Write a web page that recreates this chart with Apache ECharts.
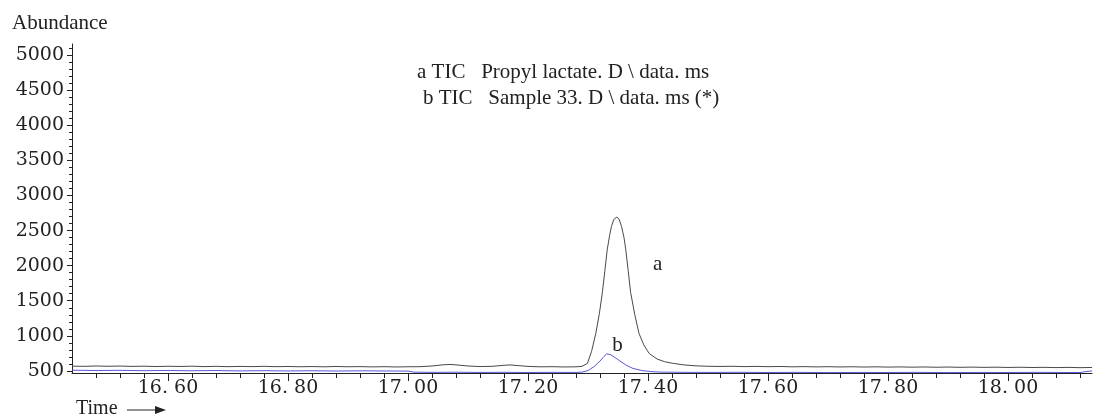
<!DOCTYPE html>
<html>
<head>
<meta charset="utf-8">
<script src="https://cdn.jsdelivr.net/npm/echarts@6/dist/echarts.min.js"></script>
<style>
  html, body { margin: 0; padding: 0; background: #fff; }
  #chart { width: 1093px; height: 416px; }
</style>
</head>
<body>
<div id="chart"></div>
<script>
// trace a: Propyl lactate (grey)
const timeA = [16.44, 16.46, 16.48, 16.50, 16.52, 16.54, 16.56, 16.58, 16.60, 16.62, 16.64, 16.66, 16.68, 16.70, 16.72, 16.74, 16.76, 16.78, 16.80, 16.82, 16.84, 16.86, 16.88, 16.90, 16.92, 16.94, 16.96, 16.98, 17.00, 17.02, 17.04, 17.06, 17.07, 17.08, 17.10, 17.12, 17.14, 17.16, 17.17, 17.18, 17.20, 17.22, 17.24, 17.26, 17.28, 17.29, 17.299, 17.306, 17.313, 17.319, 17.324, 17.328, 17.332, 17.336, 17.339, 17.343, 17.348, 17.352, 17.356, 17.360, 17.363, 17.367, 17.371, 17.378, 17.385, 17.393, 17.402, 17.415, 17.428, 17.443, 17.46, 17.48, 17.50, 17.52, 17.54, 17.56, 17.58, 17.60, 17.62, 17.64, 17.66, 17.68, 17.70, 17.72, 17.74, 17.76, 17.78, 17.80, 17.82, 17.84, 17.86, 17.88, 17.90, 17.92, 17.94, 17.96, 17.98, 18.00, 18.02, 18.04, 18.06, 18.08, 18.10, 18.12, 18.14];
const abundA = [568, 565, 570, 566, 569, 564, 567, 562, 566, 563, 567, 561, 565, 560, 564, 561, 565, 560, 563, 559, 562, 558, 563, 559, 561, 557, 560, 556, 559, 560, 570, 588, 592, 586, 570, 562, 565, 580, 585, 578, 564, 558, 560, 556, 558, 565, 606, 780, 1034, 1320, 1620, 1920, 2225, 2430, 2557, 2660, 2692, 2660, 2557, 2400, 2225, 1930, 1620, 1300, 1034, 870, 748, 670, 630, 606, 585, 572, 566, 563, 566, 561, 564, 560, 563, 558, 561, 557, 560, 556, 559, 555, 558, 554, 557, 553, 556, 552, 555, 551, 554, 550, 553, 549, 552, 548, 551, 547, 550, 546, 549];

// trace b: Sample 33 (blue)
const timeB = [16.44, 16.48, 16.52, 16.56, 16.60, 16.64, 16.68, 16.72, 16.76, 16.80, 16.84, 16.88, 16.92, 16.96, 17.00, 17.01, 17.04, 17.08, 17.12, 17.16, 17.20, 17.24, 17.28, 17.29, 17.30, 17.31, 17.32, 17.325, 17.331, 17.338, 17.345, 17.355, 17.365, 17.375, 17.39, 17.405, 17.42, 17.45, 17.50, 17.55, 17.60, 17.65, 17.70, 17.75, 17.80, 17.85, 17.90, 17.95, 18.00, 18.05, 18.10, 18.12, 18.13, 18.14];
const abundB = [510, 505, 508, 503, 506, 502, 505, 500, 503, 499, 502, 498, 501, 499, 497, 482, 479, 481, 478, 480, 477, 479, 478, 482, 505, 560, 640, 690, 743, 730, 690, 630, 575, 535, 505, 490, 483, 480, 478, 480, 477, 479, 476, 478, 477, 479, 476, 478, 477, 479, 477, 477, 490, 500];

const xLabelValues = [16.6, 16.8, 17.0, 17.2, 17.4, 17.6, 17.8, 18.0];
const yLabelValues = [500, 1000, 1500, 2000, 2500, 3000, 3500, 4000, 4500, 5000];
const legendLines = ['a TIC   Propyl lactate. D \\ data. ms', 'b TIC   Sample 33. D \\ data. ms (*)'];

const xMinor = [];
for (let i = 0; i <= 41; i++) xMinor.push(Math.round((16.48 + i * 0.04) * 100) / 100);
const yMinor = [];
for (let v = 500; v <= 5100; v += 100) yMinor.push(v);

const serif = '"Liberation Serif", "DejaVu Serif", serif';
const numFont = '"DejaVu Serif", serif';
const ink = '#222';

const chart = echarts.init(document.getElementById('chart'));

const option = {
  animation: false,
  backgroundColor: '#fff',
  title: {
    text: 'Abundance',
    left: 7,
    top: 8,
    textStyle: { fontFamily: serif, fontSize: 21, fontWeight: 'normal', color: ink }
  },
  grid: { left: 72, right: 1, top: 44, bottom: 43 },
  xAxis: [
    {
      type: 'value',
      min: 16.44,
      max: 18.14,
      axisLine: { lineStyle: { color: ink, width: 1 } },
      axisTick: { customValues: xLabelValues, length: 8, lineStyle: { color: ink } },
      axisLabel: {
        customValues: xLabelValues,
        formatter: v => v.toFixed(2).replace('.', '. '),
        fontFamily: numFont,
        fontSize: 19,
        color: ink,
        margin: 6
      },
      splitLine: { show: false }
    },
    {
      type: 'value',
      min: 16.44,
      max: 18.14,
      position: 'bottom',
      axisLine: { show: false },
      axisTick: { customValues: xMinor, length: 5, lineStyle: { color: ink } },
      axisLabel: { show: false },
      splitLine: { show: false }
    }
  ],
  yAxis: [
    {
      type: 'value',
      min: 470,
      max: 5160,
      axisLine: { show: true, lineStyle: { color: ink, width: 1 } },
      axisTick: { show: true, customValues: yLabelValues, length: 5, lineStyle: { color: ink } },
      axisLabel: {
        customValues: yLabelValues,
        formatter: v => String(v),
        fontFamily: numFont,
        fontSize: 19,
        color: ink,
        margin: 8
      },
      splitLine: { show: false }
    },
    {
      type: 'value',
      min: 470,
      max: 5160,
      position: 'left',
      axisLine: { show: false },
      axisTick: { show: true, customValues: yMinor, length: 3, lineStyle: { color: ink } },
      axisLabel: { show: false },
      splitLine: { show: false }
    }
  ],
  series: [
    {
      name: 'a',
      type: 'line',
      xAxisIndex: 0,
      yAxisIndex: 0,
      data: timeA.map((t, i) => [t, abundA[i]]),
      showSymbol: false,
      lineStyle: { color: '#4a4a4a', width: 1 },
      markPoint: {
        symbolSize: 0,
        label: { show: true, formatter: 'a', fontFamily: serif, fontSize: 21, color: ink },
        data: [{ coord: [17.416, 2010] }]
      }
    },
    {
      name: 'b',
      type: 'line',
      xAxisIndex: 0,
      yAxisIndex: 0,
      data: timeB.map((t, i) => [t, abundB[i]]),
      showSymbol: false,
      lineStyle: { color: '#5a5ad8', width: 1 },
      markPoint: {
        symbolSize: 0,
        label: { show: true, formatter: 'b', fontFamily: serif, fontSize: 21, color: ink },
        data: [{ coord: [17.349, 868] }]
      }
    }
  ],
  graphic: [
    {
      type: 'text', left: 417, top: 62,
      style: { text: legendLines[0], font: '21px ' + serif, fill: ink }
    },
    {
      type: 'text', left: 423, top: 88,
      style: { text: legendLines[1], font: '21px ' + serif, fill: ink }
    },
    {
      type: 'text', left: 76, top: 399,
      style: { text: 'Time', font: '20px ' + serif, fill: ink }
    },
    {
      type: 'line',
      shape: { x1: 127, y1: 410, x2: 160, y2: 410 },
      style: { stroke: ink, lineWidth: 1 }
    },
    {
      type: 'polygon',
      shape: { points: [[155, 406], [166, 410], [155, 414]] },
      style: { fill: ink }
    }
  ]
};

chart.setOption(option);
</script>
</body>
</html>
